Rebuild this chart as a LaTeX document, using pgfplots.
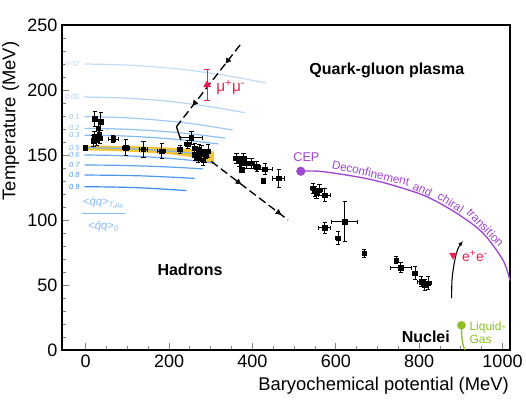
\documentclass[border=0pt]{standalone}
\usepackage{pgfplots}
\pgfplotsset{compat=1.18}
\usepackage{pgfplotstable}
\usepackage{fontspec}
\setmainfont{Liberation Sans}
\usetikzlibrary{arrows.meta}
\definecolor{qblue}{RGB}{55,140,235}
\definecolor{cpurple}{RGB}{160,70,210}
\definecolor{cred}{RGB}{235,30,80}
\definecolor{cgreen}{RGB}{140,190,40}
\definecolor{cyellow}{RGB}{243,190,35}

\pgfplotstableread{
x y ex ey
-1.7 155.6 3 2
21.8 177.7 3 6
36.0 175.6 3 7
30.0 170.5 3 5
32.0 166 3 4
20.8 164 4 4
26.3 161.5 4 4
34.0 162.8 4 4
18.3 160.8 4 4
66.2 162.3 12 3
96.4 155.6 9 6
138.3 154.3 9 6
182.2 153 9 6
226.1 154.3 7 3
244.5 158.2 7 3
253.5 163.3 26 5
261.5 155 6 4
278.1 152.6 7 5
261.5 150 6 4
270 148 6 4
286.4 149 8 5
294 153 6 5
282.2 146 6 4
272.0 154 6 4
362 147.4 8 4
378.2 147.4 8 4
369.2 145 6 4
374.2 143.6 6 4
386.2 143.6 8 4
397.6 143.6 8 4
410.1 141 8 4
374.2 138.5 2 2
430.1 139.2 17 4
425.9 130 2 2
463 132 14 6.7
545.8 124.4 6 4
553.8 120.5 6 4
550.8 122 6 4
560.8 123 6 4
573.4 119 14 5
621.4 98.7 31 15.4
573.4 94 14 4
606.1 86 6 5
668.5 74.4 5 3
745.3 69.2 4 3
756.3 63.3 25 4
790 59 6 5
805.2 52.5 10 4
813.2 50 8 4
821.6 51.3 8 5
}\hadrondata

\begin{document}
\begin{tikzpicture}
\begin{axis}[name=ax, scale only axis, width=336pt, height=243.75pt,
  xmin=-57, xmax=1018, ymin=0, ymax=250,
  xtick={0,200,...,1000}, ytick={0,50,...,250},
  minor x tick num=3, minor y tick num=4,
  tick align=inside, xtick pos=bottom, ytick pos=left,
  major tick length=5pt, minor tick length=3pt,
  tick style={line width=0.7pt},
  tick label style={font=\fontsize{13.5}{15}\selectfont},
  /pgf/number format/assume math mode=true,
  /pgf/number format/1000 sep={},
  label style={font=\fontsize{13.8}{16}\selectfont},
  xlabel={Baryochemical potential (MeV)},
  ylabel={Temperature (MeV)},
  xlabel style={at={(axis description cs:1.008,-0.07)}, anchor=north east},
  ylabel style={at={(axis description cs:-0.085,0.963)}, anchor=south east},
  axis line style={line width=0.8pt},
  clip=false,
]
% yellow band
\addplot[fill=cyellow, draw=none, fill opacity=0.9] coordinates {(-3,157.3)(91,157)(191,155.8)(251,154.5)(291,153.8)(308,152.5)(308,143)(291,144)(251,148.5)(191,151)(91,152.8)(-3,153.6)} --cycle;
% condensate lines
\addplot[qblue!30, line width=0.9pt, smooth] coordinates {(-3,220)(105,219.1)(214.5,216.4)(324,211.8)(432,205.5)};
\addplot[qblue!38, line width=0.9pt, smooth] coordinates {(-3,194.6)(93,193.8)(189.5,191.6)(286,187.8)(382,182.5)};
\addplot[qblue!46, line width=0.9pt, smooth] coordinates {(-3,179.4)(85.4,178.8)(174.8,176.8)(264,173.7)(352.8,169.2)};
\addplot[qblue!54, line width=0.9pt, smooth] coordinates {(-3,170.5)(81,170)(165.5,168.6)(250,166.3)(334.3,163)};
\addplot[qblue!60, line width=0.9pt, smooth] coordinates {(-3,165.2)(77,164.8)(157.5,163.5)(238,161.4)(318.3,158.5)};
\addplot[qblue!68, line width=0.9pt, smooth] coordinates {(-3,155.6)(71.5,155.2)(147,154.2)(222.5,152.4)(297.4,150)};
\addplot[qblue!74, line width=0.9pt, smooth] coordinates {(-3,150)(74,149.6)(152,148.5)(230,146.6)(307.4,144)};
\addplot[qblue!82, line width=0.9pt, smooth] coordinates {(-3,142.3)(68,142.1)(139.5,141.5)(211,140.6)(282.4,139.3)};
\addplot[qblue!90, line width=0.9pt, smooth] coordinates {(-3,134.6)(62.5,134.4)(129,134)(195.5,133.1)(261.5,132)};
\addplot[qblue, line width=0.9pt, smooth] coordinates {(-3,125.6)(57.5,125.4)(119,124.9)(180.5,123.9)(241.5,122.6)};
\begin{scope}[font=\itshape\fontsize{5.6}{6}\selectfont, inner sep=0.5pt]
\node[anchor=east, text=qblue!30] at (axis cs:-13,220) {0.02};
\node[anchor=east, text=qblue!38] at (axis cs:-13,194.6) {0.05};
\node[anchor=east, text=qblue!46] at (axis cs:-13,179.4) {0.1};
\node[anchor=east, text=qblue!54] at (axis cs:-13,170.5) {0.2};
\node[anchor=east, text=qblue!60] at (axis cs:-13,165.2) {0.3};
\node[anchor=east, text=qblue!68] at (axis cs:-13,155.6) {0.5};
\node[anchor=east, text=qblue!74] at (axis cs:-13,150) {0.6};
\node[anchor=east, text=qblue!82] at (axis cs:-13,142.3) {0.7};
\node[anchor=east, text=qblue!90] at (axis cs:-13,134.6) {0.8};
\node[anchor=east, text=qblue] at (axis cs:-13,125.6) {0.9};
\end{scope}
\node[text=qblue!60, font=\itshape\fontsize{8.5}{10}\selectfont, align=center, inner sep=0pt] at (axis cs:43,104) {<\={q}q>\textsubscript{T,μ\textsubscript{B}}\\[-1pt]\textcolor{qblue!60}{\rule[0.6ex]{32pt}{0.6pt}}\\[-1pt]<\={q}q>\textsubscript{0}};
% trajectories
\addplot[black, line width=1pt, dash pattern=on 6pt off 3pt] coordinates {(370.2,234.6)(217.6,171.8)};
\addplot[black, line width=1pt] coordinates {(217.6,171.8)(228.1,161.5)};
\addplot[black, only marks, mark=triangle*, mark size=2.2pt, mark options={rotate=142}] coordinates {(341,222.6)(262,190.1)};
\addplot[black, line width=1pt, dash pattern=on 6pt off 3pt] coordinates {(301.4,145)(485.5,100)};
\addplot[black, only marks, mark=triangle*, mark size=2.2pt, mark options={rotate=-127}] coordinates {(366,129.2)(462,105.8)};
% data
\addplot[only marks, mark=square*, mark size=1.7pt, black,
  error bars/.cd, x dir=both, x explicit, y dir=both, y explicit,
  error bar style={line width=0.7pt, black},
  error mark options={rotate=90, black, mark size=1.6pt, line width=0.7pt}]
  table[x=x, y=y, x error=ex, y error=ey] {\hadrondata};
% mu+mu-
\addplot[cred, only marks, mark=triangle*, mark size=3pt,
  error bars/.cd, y dir=both, y explicit,
  error bar style={cred, line width=0.8pt},
  error mark options={rotate=90, cred, mark size=2.2pt, line width=0.8pt}]
  coordinates {(291.4,204) +- (0,12)};
\node[anchor=west, text=cred, font=\fontsize{11.5}{12}\selectfont] at (axis cs:302,202) {μ\textsuperscript{+}μ\textsuperscript{-}};
% e+e-
\addplot[black, line width=0.8pt, smooth, -{Latex[length=4pt,width=3pt]}] coordinates {(878,40)(879,55)(885.6,69.2)(893.5,78.2)(905.5,84)};
\addplot[cred, only marks, mark=triangle*, mark size=3pt, mark options={rotate=180}] coordinates {(881.5,73)};
\node[anchor=west, text=cred, font=\fontsize{10.5}{12}\selectfont, inner sep=1pt] at (axis cs:899,72) {e\textsuperscript{+}e\textsuperscript{-}};
% purple transition line
\addplot[cpurple, line width=1pt, smooth] coordinates {(516,137.5)(569,137.2)(689,130.8)(809,119.2)(890,105.2)(953,90)(1001,69.2)(1018,53.5)};
\addplot[cpurple, only marks, mark=*, mark size=3.2pt] coordinates {(516,137.5)};
\node[text=cpurple, font=\fontsize{9.5}{11}\selectfont] at (axis cs:529.5,148.5) {CEP};
\begin{scope}[font=\fontsize{8.8}{10}\selectfont, text=cpurple, inner sep=0pt]
\node[rotate=-13] at (axis cs:683.7,136.2) {Deconfinement};
\node[rotate=-24] at (axis cs:808,123.6) {and};
\node[rotate=-32] at (axis cs:876,113.3) {chiral};
\node[rotate=-46] at (axis cs:959,94.3) {transition};
\end{scope}
% liquid-gas
\addplot[cgreen, line width=1pt, smooth] coordinates {(901.5,19)(902.4,10)(905.4,4)(909.4,0)};
\addplot[cgreen, only marks, mark=*, mark size=3pt] coordinates {(901.5,19)};
\node[anchor=west, text=cgreen, align=left, font=\fontsize{9}{9.5}\selectfont, inner sep=1pt] at (axis cs:917,13.5) {Liquid-\\Gas};
% region labels
\node[font=\bfseries\fontsize{12}{14}\selectfont] at (axis cs:722.4,215) {Quark-gluon plasma};
\node[font=\bfseries\fontsize{12}{14}\selectfont] at (axis cs:250.1,61.5) {Hadrons};
\node[font=\bfseries\fontsize{12}{14}\selectfont] at (axis cs:816,10) {Nuclei};
\end{axis}
\pgfresetboundingbox
\path ([shift={(-46.5pt,-36.75pt)}]ax.south west) rectangle ([shift={(12pt,18.75pt)}]ax.north east);
\end{tikzpicture}
\end{document}
